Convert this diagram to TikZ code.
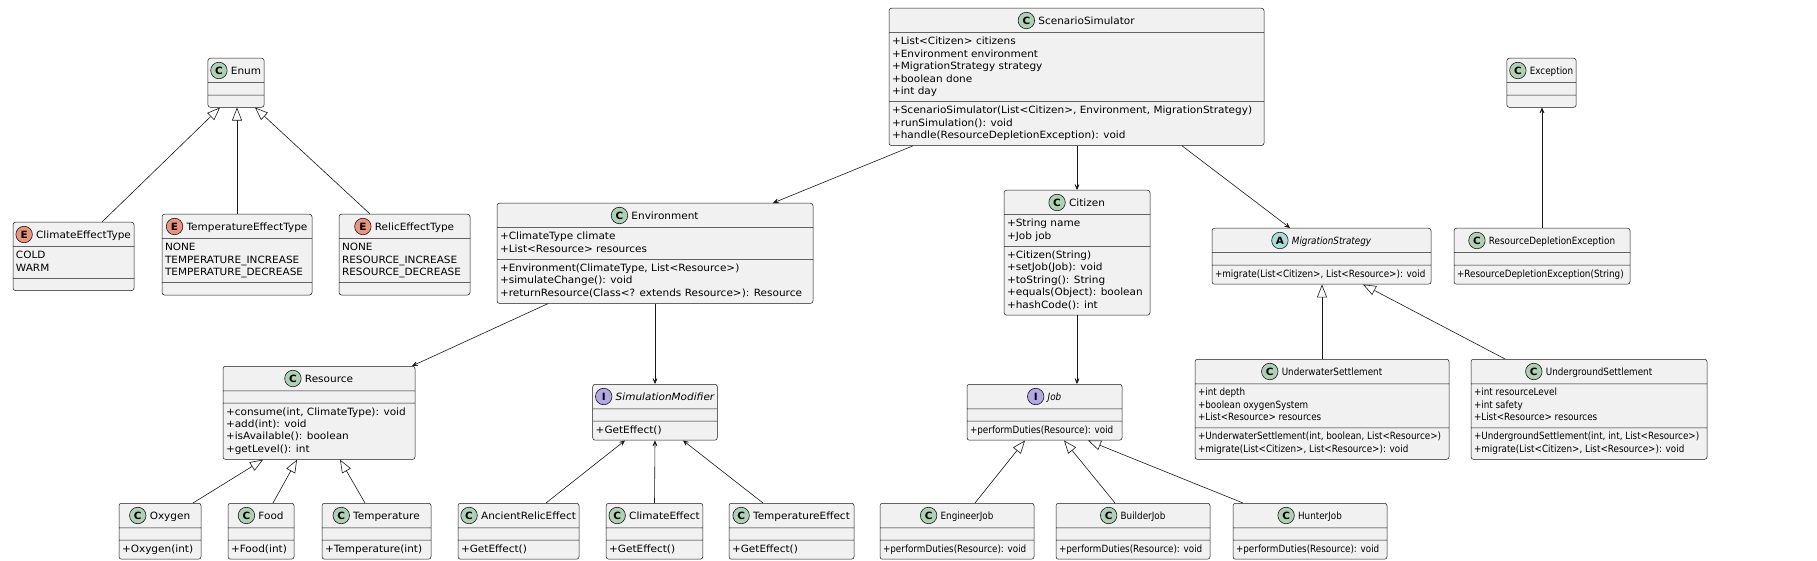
\documentclass[tikz,border=0pt]{standalone}
\usepackage{fontspec}
\setmainfont{DejaVu Sans}[FakeStretch=1.05]
\newfontfamily\narrowfont{DejaVu Sans}[FakeStretch=0.88]
\usetikzlibrary{shapes.multipart,arrows.meta}

\definecolor{boxfill}{HTML}{F1F1F1}
\definecolor{boxline}{HTML}{181818}
\definecolor{classC}{HTML}{ADD1B2}
\definecolor{enumE}{HTML}{EB937F}
\definecolor{abstrA}{HTML}{A9DCDF}
\definecolor{intfI}{HTML}{B4A7E5}

\newcommand{\umlfont}{\fontsize{10}{12.4}\selectfont}
% header line: room for the round icon left of the name
\newcommand{\umlhead}[1]{\rule[-5.2pt]{0pt}{17.7pt}\hspace{20pt}#1}

\tikzset{
  umlclass/.style={rectangle split, rectangle split parts=3,
    rectangle split ignore empty parts=false,
    rectangle split part align={center,left,left},
    draw=boxline, fill=boxfill, line width=0.5pt, rounded corners=2.5pt,
    anchor=north, align=left, inner xsep=3pt, inner ysep=3.15pt,
    font=\umlfont, minimum width=#1},
  narrow/.style={font=\narrowfont\umlfont},
  icon/.style={circle, draw=boxline, line width=0.6pt, fill=#1,
    minimum size=16.5pt, inner sep=0pt, font=\umlfont\bfseries},
  assoc/.style={boxline, line width=0.6pt,
    -{Stealth[length=8pt,width=7pt,inset=5pt]}},
  extends/.style={boxline, line width=0.6pt,
    -{Triangle[open,fill=white,length=13pt,width=10pt]}}
}

\begin{document}
\begin{tikzpicture}[x=1pt,y=-1pt]
  \path[use as bounding box, fill=white] (0,0) rectangle (1817,561);

  % enums
  \node[umlclass=54pt] (enum) at (236,58) {\umlhead{Enum}\nodepart{two}\nodepart{three}};
  \node[icon=classC] (enum-c) at ([xshift=8pt,yshift=3.65pt]enum.text) {C};
  \node[umlclass=121pt] (climatetype) at (73.5,222) {\umlhead{ClimateEffectType}%
    \nodepart{two}\strut COLD\\WARM\strut\nodepart{three}};
  \node[icon=enumE] (climatetype-e) at ([xshift=8pt,yshift=3.65pt]climatetype.text) {E};
  \node[umlclass=150pt] (temptype) at (237,214) {\umlhead{TemperatureEffectType}%
    \nodepart{two}\strut NONE\\TEMPERATURE\_INCREASE\\TEMPERATURE\_DECREASE\strut\nodepart{three}};
  \node[icon=enumE] (temptype-e) at ([xshift=8pt,yshift=3.65pt]temptype.text) {E};
  \node[umlclass=131pt] (relictype) at (404.5,214) {\umlhead{RelicEffectType}%
    \nodepart{two}\strut NONE\\RESOURCE\_INCREASE\\RESOURCE\_DECREASE\strut\nodepart{three}};
  \node[icon=enumE] (relictype-e) at ([xshift=8pt,yshift=3.65pt]relictype.text) {E};

  % simulator and its parts
  \node[umlclass=375pt] (simulator) at (1076.5,8) {\umlhead{ScenarioSimulator}%
    \nodepart{two}\strut+List<Citizen> citizens\\+Environment environment\\+MigrationStrategy strategy\\+boolean done\\+int day\strut
    \nodepart{three}\strut+ScenarioSimulator(List<Citizen>, Environment, MigrationStrategy)\\+runSimulation(): void\\+handle(ResourceDepletionException): void\strut};
  \node[icon=classC] (simulator-c) at ([xshift=8pt,yshift=3.65pt]simulator.text) {C};
  \node[umlclass=65pt, narrow] (exception) at (1541.5,58) {\umlhead{Exception}\nodepart{two}\nodepart{three}};
  \node[icon=classC] (exception-c) at ([xshift=8pt,yshift=3.65pt]exception.text) {C};
  \node[umlclass=316pt] (environment) at (655,203) {\umlhead{Environment}%
    \nodepart{two}\strut+ClimateType climate\\+List<Resource> resources\strut
    \nodepart{three}\strut+Environment(ClimateType, List<Resource>)\\+simulateChange(): void\\+returnResource(Class<? extends Resource>): Resource\strut};
  \node[icon=classC] (environment-c) at ([xshift=8pt,yshift=3.65pt]environment.text) {C};
  \node[umlclass=146pt] (citizen) at (1077,190) {\umlhead{Citizen}%
    \nodepart{two}\strut+String name\\+Job job\strut
    \nodepart{three}\strut+Citizen(String)\\+setJob(Job): void\\+toString(): String\\+equals(Object): boolean\\+hashCode(): int\strut};
  \node[icon=classC] (citizen-c) at ([xshift=8pt,yshift=3.65pt]citizen.text) {C};
  \node[umlclass=219pt, narrow] (migration) at (1321.5,228) {\umlhead{\itshape MigrationStrategy}%
    \nodepart{two}\nodepart{three}\strut+migrate(List<Citizen>, List<Resource>): void\strut};
  \node[icon=abstrA] (migration-a) at ([xshift=8pt,yshift=3.65pt]migration.text) {A};
  \node[umlclass=176pt, narrow] (depletion) at (1542,228) {\umlhead{ResourceDepletionException}%
    \nodepart{two}\nodepart{three}\strut+ResourceDepletionException(String)\strut};
  \node[icon=classC] (depletion-c) at ([xshift=8pt,yshift=3.65pt]depletion.text) {C};

  % second row
  \node[umlclass=192pt] (resource) at (319,366) {\umlhead{Resource}%
    \nodepart{two}\nodepart{three}\strut+consume(int, ClimateType): void\\+add(int): void\\+isAvailable(): boolean\\+getLevel(): int\strut};
  \node[icon=classC] (resource-c) at ([xshift=8pt,yshift=3.65pt]resource.text) {C};
  \node[umlclass=124pt] (modifier) at (655,384) {\umlhead{\itshape SimulationModifier}%
    \nodepart{two}\nodepart{three}\strut+GetEffect()\strut};
  \node[icon=intfI] (modifier-i) at ([xshift=8pt,yshift=3.65pt]modifier.text) {I};
  \node[umlclass=155pt, narrow] (job) at (1044.5,384) {\umlhead{\itshape Job}%
    \nodepart{two}\nodepart{three}\strut+performDuties(Resource): void\strut};
  \node[icon=intfI] (job-i) at ([xshift=8pt,yshift=3.65pt]job.text) {I};
  \node[umlclass=254pt, narrow] (underwater) at (1322,359) {\umlhead{UnderwaterSettlement}%
    \nodepart{two}\strut+int depth\\+boolean oxygenSystem\\+List<Resource> resources\strut
    \nodepart{three}\strut+UnderwaterSettlement(int, boolean, List<Resource>)\\+migrate(List<Citizen>, List<Resource>): void\strut};
  \node[icon=classC] (underwater-c) at ([xshift=8pt,yshift=3.65pt]underwater.text) {C};
  \node[umlclass=236pt, narrow] (underground) at (1589,359) {\umlhead{UndergroundSettlement}%
    \nodepart{two}\strut+int resourceLevel\\+int safety\\+List<Resource> resources\strut
    \nodepart{three}\strut+UndergroundSettlement(int, int, List<Resource>)\\+migrate(List<Citizen>, List<Resource>): void\strut};
  \node[icon=classC] (underground-c) at ([xshift=8pt,yshift=3.65pt]underground.text) {C};

  % bottom row
  \node[umlclass=82pt] (oxygen) at (160,503) {\umlhead{Oxygen}\nodepart{two}\nodepart{three}\strut+Oxygen(int)\strut};
  \node[icon=classC] (oxygen-c) at ([xshift=8pt,yshift=3.65pt]oxygen.text) {C};
  \node[umlclass=66pt] (food) at (261,503) {\umlhead{Food}\nodepart{two}\nodepart{three}\strut+Food(int)\strut};
  \node[icon=classC] (food-c) at ([xshift=8pt,yshift=3.65pt]food.text) {C};
  \node[umlclass=109pt] (temperature) at (376.5,503) {\umlhead{Temperature}\nodepart{two}\nodepart{three}\strut+Temperature(int)\strut};
  \node[icon=classC] (temperature-c) at ([xshift=8pt,yshift=3.65pt]temperature.text) {C};
  \node[umlclass=121pt] (relic) at (518.5,503) {\umlhead{AncientRelicEffect}\nodepart{two}\nodepart{three}\strut+GetEffect()\strut};
  \node[icon=classC] (relic-c) at ([xshift=8pt,yshift=3.65pt]relic.text) {C};
  \node[umlclass=95pt] (climate) at (654.5,503) {\umlhead{ClimateEffect}\nodepart{two}\nodepart{three}\strut+GetEffect()\strut};
  \node[icon=classC] (climate-c) at ([xshift=8pt,yshift=3.65pt]climate.text) {C};
  \node[umlclass=125pt] (tempeffect) at (791.5,503) {\umlhead{TemperatureEffect}\nodepart{two}\nodepart{three}\strut+GetEffect()\strut};
  \node[icon=classC] (tempeffect-c) at ([xshift=8pt,yshift=3.65pt]tempeffect.text) {C};
  \node[umlclass=154pt, narrow] (engineer) at (957,503) {\umlhead{EngineerJob}\nodepart{two}\nodepart{three}\strut+performDuties(Resource): void\strut};
  \node[icon=classC] (engineer-c) at ([xshift=8pt,yshift=3.65pt]engineer.text) {C};
  \node[umlclass=154pt, narrow] (builder) at (1133,503) {\umlhead{BuilderJob}\nodepart{two}\nodepart{three}\strut+performDuties(Resource): void\strut};
  \node[icon=classC] (builder-c) at ([xshift=8pt,yshift=3.65pt]builder.text) {C};
  \node[umlclass=154pt, narrow] (hunter) at (1310,503) {\umlhead{HunterJob}\nodepart{two}\nodepart{three}\strut+performDuties(Resource): void\strut};
  \node[icon=classC] (hunter-c) at ([xshift=8pt,yshift=3.65pt]hunter.text) {C};

  % connectors
  \draw[extends] ([xshift=28.5pt]climatetype.north) -- ([xshift=-16pt]enum.south);
  \draw[extends] (temptype.north) -- (temptype.north |- enum.south);
  \draw[extends] ([xshift=-34.5pt]relictype.north) -- ([xshift=19pt]enum.south);
  \draw[assoc] ([xshift=-163.5pt]simulator.south) -- ([xshift=118pt]environment.north);
  \draw[assoc] (citizen.north |- simulator.south) -- (citizen.north);
  \draw[assoc] ([xshift=105.5pt]simulator.south) -- ([xshift=-31.5pt]migration.north);
  \draw[assoc] (depletion.north) -- (depletion.north |- exception.south);
  \draw[extends] (underwater.north) -- (underwater.north |- migration.south);
  \draw[extends] ([xshift=-84pt]underground.north) -- ([xshift=41.5pt]migration.south);
  \draw[assoc] ([xshift=-107pt]environment.south) -- ([xshift=93pt]resource.north);
  \draw[assoc] (environment.south) -- (modifier.north);
  \draw[extends] ([xshift=33pt]oxygen.north) -- ([xshift=-56pt]resource.south);
  \draw[extends] ([xshift=12pt]food.north) -- ([xshift=-22pt]resource.south);
  \draw[extends] ([xshift=-11.5pt]temperature.north) -- ([xshift=21pt]resource.south);
  \draw[assoc] ([xshift=27.5pt]relic.north) -- ([xshift=-30pt]modifier.south);
  \draw[assoc] (climate.north) -- (modifier.south);
  \draw[assoc] ([xshift=-28.5pt]tempeffect.north) -- ([xshift=28pt]modifier.south);
  \draw[assoc] (citizen.south) -- (citizen.south |- job.north);
  \draw[extends] ([xshift=18pt]engineer.north) -- ([xshift=-19.5pt]job.south);
  \draw[extends] ([xshift=-18pt]builder.north) -- ([xshift=19.5pt]job.south);
  \draw[extends] ([xshift=-67pt]hunter.north) -- ([xshift=43.5pt]job.south);
\end{tikzpicture}
\end{document}
